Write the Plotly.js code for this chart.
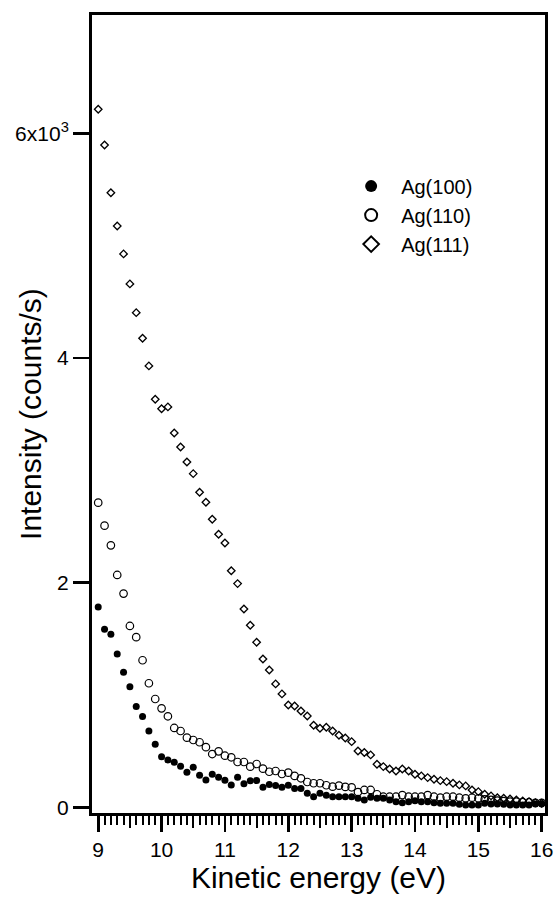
<!DOCTYPE html>
<html>
<head>
<meta charset="utf-8">
<script src="https://cdn.plot.ly/plotly-3.0.1.min.js"></script>
<style>html,body{margin:0;padding:0;background:#fff;}#chart{width:554px;height:903px;}</style>
</head>
<body>
<div id="chart"></div>
<script>
// Kinetic energy (eV) sampling points
const energy = [9.0,9.1,9.2,9.3,9.4,9.5,9.6,9.7,9.8,9.9,
  10.0,10.1,10.2,10.3,10.4,10.5,10.6,10.7,10.8,10.9,
  11.0,11.1,11.2,11.3,11.4,11.5,11.6,11.7,11.8,11.9,
  12.0,12.1,12.2,12.3,12.4,12.5,12.6,12.7,12.8,12.9,
  13.0,13.1,13.2,13.3,13.4,13.5,13.6,13.7,13.8,13.9,
  14.0,14.1,14.2,14.3,14.4,14.5,14.6,14.7,14.8,14.9,
  15.0,15.1,15.2,15.3,15.4,15.5,15.6,15.7,15.8,15.9,16.0];

// Intensity (counts/s)
const ag100 = [1783,1585,1540,1365,1202,1074,896,807,679,561,
  450,421,401,365,312,356,285,243,295,268,
  240,199,268,210,236,238,178,202,194,178,
  196,166,166,125,94,125,107,94,94,94,
  94,80,65,89,80,80,65,50,41,50,
  59,50,50,41,36,36,36,27,20,20,
  20,36,30,30,27,20,20,20,20,30,30];

const ag110 = [2712,2507,2332,2068,1902,1614,1514,1309,1104,964,
  881,810,706,679,620,599,579,535,474,498,
  459,445,403,403,361,385,344,316,323,296,
  308,279,258,225,214,214,196,183,192,181,
  178,135,154,154,116,94,94,94,109,94,
  94,94,109,94,85,94,94,85,80,85,
  80,70,65,60,55,50,50,45,45,40,40];

const ag111 = [6214,5896,5471,5175,4926,4659,4403,4175,3929,3632,
  3548,3564,3332,3207,3074,2970,2804,2715,2564,2430,
  2353,2106,1991,1765,1620,1469,1320,1222,1098,1009,
  911,902,857,813,730,703,712,679,641,617,
  584,501,488,466,383,362,341,323,341,323,
  294,279,264,249,237,228,214,199,190,154,
  139,116,101,85,80,74,65,56,50,41,36];

const seriesNames = ['Ag(100)','Ag(110)','Ag(111)'];
const xTickVals = [9,10,11,12,13,14,15,16];
const xTickText = ['9','10','11','12','13','14','15','16'];
const xMidTicks = [9.5,10.5,11.5,12.5,13.5,14.5,15.5];
const yTickVals = [0,2000,4000,6000];
const yTickText = ['0','2','4','6x10<sup>3</sup>'];

const FONT = 'Liberation Sans, Arial, Helvetica, sans-serif';
const X_RANGE = [8.902, 16.052];

const traces = [
  {x: energy, y: ag100, name: seriesNames[0], type: 'scatter', mode: 'markers',
   marker: {symbol: 'circle', color: '#000', size: 7}},
  {x: energy, y: ag110, name: seriesNames[1], type: 'scatter', mode: 'markers',
   marker: {symbol: 'circle-open', color: '#000', size: 7.5, line: {width: 1.2, color: '#000'}}},
  {x: energy, y: ag111, name: seriesNames[2], type: 'scatter', mode: 'markers',
   marker: {symbol: 'diamond-open', color: '#000', size: 5.8, line: {width: 1.3, color: '#000'}}},
  {x: [], y: [], xaxis: 'x2', yaxis: 'y', showlegend: false, hoverinfo: 'skip', type: 'scatter', mode: 'markers'}
];

const layout = {
  width: 554, height: 903,
  margin: {l: 92, r: 9, t: 15, b: 90},
  paper_bgcolor: '#fff', plot_bgcolor: '#fff',
  font: {family: FONT, color: '#000', size: 21},
  showlegend: true,
  legend: {x: 0.55, y: 0.81, xanchor: 'left', yanchor: 'top', bgcolor: 'rgba(0,0,0,0)',
           font: {family: FONT, size: 20, color: '#000'}, itemsizing: 'constant', itemwidth: 50},
  xaxis: {
    range: X_RANGE, tickmode: 'array', tickvals: xTickVals, ticktext: xTickText,
    ticks: 'outside', ticklen: 16, tickwidth: 2.7, tickcolor: '#000',
    showline: true, linewidth: 3, linecolor: '#000', mirror: true,
    showgrid: false, zeroline: false,
    tickfont: {family: FONT, size: 21, color: '#000'},
    minor: {dtick: 0.1, tick0: 9, ticks: 'outside', ticklen: 9, tickwidth: 2, tickcolor: '#000', showgrid: false},
    title: {text: 'Kinetic energy (eV)', font: {family: FONT, size: 30, color: '#000'}, standoff: 6}
  },
  xaxis2: {
    overlaying: 'x', range: X_RANGE, anchor: 'y', side: 'bottom',
    tickmode: 'array', tickvals: xMidTicks, showticklabels: false,
    ticks: 'outside', ticklen: 12, tickwidth: 2.2, tickcolor: '#000',
    showline: true, linewidth: 3, linecolor: '#000',
    showgrid: false, zeroline: false
  },
  yaxis: {
    range: [-51, 7053], tickmode: 'array', tickvals: yTickVals, ticktext: yTickText,
    ticks: 'outside', ticklen: 16, tickwidth: 2.7, tickcolor: '#000',
    showline: true, linewidth: 3, linecolor: '#000', mirror: true,
    showgrid: false, zeroline: false,
    tickfont: {family: FONT, size: 21, color: '#000'}
  },
  annotations: [{
    text: 'Intensity (counts/s)', xref: 'paper', yref: 'paper',
    x: -0.137, y: 0.5, xanchor: 'center', yanchor: 'middle', textangle: -90,
    showarrow: false, font: {family: FONT, size: 30, color: '#000'}
  }]
};

Plotly.newPlot('chart', traces, layout, {staticPlot: true, displayModeBar: false});
</script>
</body>
</html>
